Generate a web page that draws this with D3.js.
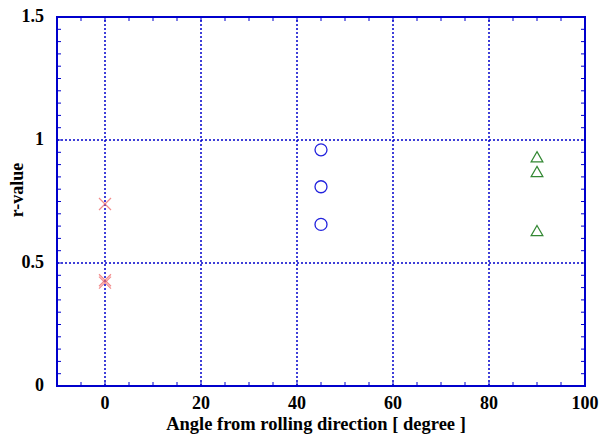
<!DOCTYPE html>
<html>
<head>
<meta charset="utf-8">
<script src="https://cdn.jsdelivr.net/npm/d3@7"></script>
<style>
  body { margin: 0; background: #fff; }
</style>
</head>
<body>
<div class="chart"></div>
<script>
// data
const crossX = [0, 0, 0];
const crossY = [0.74, 0.42, 0.43];
const circleX = [45, 45, 45];
const circleY = [0.96, 0.81, 0.657];
const triX = [90, 90, 90];
const triY = [0.925, 0.865, 0.625];
const xTicks = [0, 20, 40, 60, 80, 100];
const yTicks = [0, 0.5, 1, 1.5];

const width = 600, height = 439;
const margin = { left: 57, right: 15, top: 17, bottom: 53 };

const svg = d3.select(".chart").append("svg")
    .attr("width", width)
    .attr("height", height)
    .attr("font-family", "'Liberation Serif', 'Times New Roman', 'DejaVu Serif', serif")
    .attr("font-weight", "bold");

const x = d3.scaleLinear().domain([-10, 100]).range([margin.left, width - margin.right]);
const y = d3.scaleLinear().domain([0, 1.5]).range([height - margin.bottom, margin.top]);

const blue = "#0000cc";

// grid
svg.append("g").selectAll("line")
    .data(xTicks.filter(d => d > -10 && d < 100))
    .enter().append("line")
    .attr("x1", d => x(d)).attr("x2", d => x(d))
    .attr("y1", y(0)).attr("y2", y(1.5))
    .attr("stroke", blue).attr("stroke-width", 1.5)
    .attr("stroke-dasharray", "2,2");

svg.append("g").selectAll("line")
    .data(yTicks.filter(d => d > 0 && d < 1.5))
    .enter().append("line")
    .attr("x1", x(-10)).attr("x2", x(100))
    .attr("y1", d => y(d)).attr("y2", d => y(d))
    .attr("stroke", blue).attr("stroke-width", 1.5)
    .attr("stroke-dasharray", "2,2");

// minor ticks on all four sides
const xMinor = d3.range(-10, 100.01, 5);
const yMinor = d3.range(0, 1.501, 0.05);
const tl = 4;

svg.append("g").selectAll("line")
    .data(xMinor)
    .enter().append("line")
    .attr("x1", d => x(d)).attr("x2", d => x(d))
    .attr("y1", y(0)).attr("y2", y(0) - tl)
    .attr("stroke", blue).attr("stroke-width", 1);
svg.append("g").selectAll("line")
    .data(xMinor)
    .enter().append("line")
    .attr("x1", d => x(d)).attr("x2", d => x(d))
    .attr("y1", y(1.5)).attr("y2", y(1.5) + tl)
    .attr("stroke", blue).attr("stroke-width", 1);
svg.append("g").selectAll("line")
    .data(yMinor)
    .enter().append("line")
    .attr("x1", x(-10)).attr("x2", x(-10) + tl)
    .attr("y1", d => y(d)).attr("y2", d => y(d))
    .attr("stroke", blue).attr("stroke-width", 1);
svg.append("g").selectAll("line")
    .data(yMinor)
    .enter().append("line")
    .attr("x1", x(100)).attr("x2", x(100) - tl)
    .attr("y1", d => y(d)).attr("y2", d => y(d))
    .attr("stroke", blue).attr("stroke-width", 1);

// frame
svg.append("rect")
    .attr("x", x(-10)).attr("y", y(1.5))
    .attr("width", x(100) - x(-10))
    .attr("height", y(0) - y(1.5))
    .attr("fill", "none")
    .attr("stroke", blue).attr("stroke-width", 2);

// tick labels
svg.append("g").selectAll("text")
    .data(xTicks)
    .enter().append("text")
    .attr("x", d => x(d))
    .attr("y", y(0) + 23)
    .attr("text-anchor", "middle")
    .attr("font-size", 18)
    .text(d => d);

svg.append("g").selectAll("text")
    .data(yTicks)
    .enter().append("text")
    .attr("x", x(-10) - 13)
    .attr("y", d => y(d) + 5)
    .attr("text-anchor", "end")
    .attr("font-size", 18)
    .text(d => d);

// axis titles
svg.append("text")
    .attr("x", 316)
    .attr("y", 430)
    .attr("text-anchor", "middle")
    .attr("font-size", 18.5)
    .text("Angle from rolling direction [ degree ]");

svg.append("text")
    .attr("transform", "translate(23,190) rotate(-90)")
    .attr("text-anchor", "middle")
    .attr("font-size", 18)
    .text("r-value");

// crosses
const cs = 6;
const crosses = svg.append("g");
crossX.forEach((d, i) => {
    const cx = x(d), cy = y(crossY[i]);
    crosses.append("path")
        .attr("d", `M${cx - cs},${cy - cs}L${cx + cs},${cy + cs}M${cx - cs},${cy + cs}L${cx + cs},${cy - cs}`)
        .attr("stroke", "#ee6666").attr("stroke-opacity", 0.75)
        .attr("stroke-width", 1.2).attr("fill", "none");
});

// circles
svg.append("g").selectAll("circle")
    .data(circleX)
    .enter().append("circle")
    .attr("cx", d => x(d))
    .attr("cy", (d, i) => y(circleY[i]))
    .attr("r", 6)
    .attr("fill", "none")
    .attr("stroke", "#2222dd").attr("stroke-width", 1.3);

// triangles
const tri = d3.symbol().type(d3.symbolTriangle).size(60);
svg.append("g").selectAll("path")
    .data(triX)
    .enter().append("path")
    .attr("d", tri)
    .attr("transform", (d, i) => "translate(" + x(d) + "," + y(triY[i]) + ")")
    .attr("fill", "none")
    .attr("stroke", "#338833").attr("stroke-width", 1.2);
</script>
</body>
</html>
